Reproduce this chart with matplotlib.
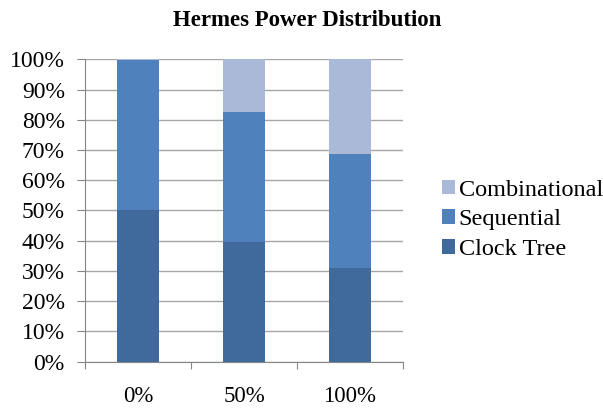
import matplotlib
matplotlib.use('Agg')
import matplotlib.pyplot as plt
import numpy as np

categories = ['0%', '50%', '100%']
clock_tree = [50.0, 39.7, 30.9]
sequential = [49.8, 43.0, 37.8]
combinational = [0.2, 17.3, 31.3]

colors = {'Clock Tree': '#3F6A9B', 'Sequential': '#4F81BD', 'Combinational': '#AAB9D7'}

plt.rcParams['font.family'] = ['Liberation Serif', 'DejaVu Serif']

fig = plt.figure(figsize=(6.03, 4.08), dpi=100)
ax = fig.add_axes([0.1415, 0.1135, 0.5265, 0.7412])

x = np.arange(len(categories))
width = 0.4
b1 = ax.bar(x, clock_tree, width, color=colors['Clock Tree'], label='Clock Tree', zorder=3)
b2 = ax.bar(x, sequential, width, bottom=clock_tree, color=colors['Sequential'], label='Sequential', zorder=3)
bottom2 = np.array(clock_tree) + np.array(sequential)
b3 = ax.bar(x, combinational, width, bottom=bottom2, color=colors['Combinational'], label='Combinational', zorder=3)

ax.set_xlim(-0.5, 2.5)
ax.set_ylim(0, 100)
ax.set_yticks(range(0, 101, 10))
ax.set_yticklabels([f'{v}%' for v in range(0, 101, 10)], fontsize=17)
ax.yaxis.grid(True, color='#A6A6A6', linewidth=1, zorder=0)

ax.set_xticks([-0.5, 0.5, 1.5, 2.5])
ax.set_xticklabels([])
ax.set_xticks(x, minor=True)
ax.set_xticklabels(categories, minor=True, fontsize=16.5)
ax.tick_params(axis='x', which='minor', length=0, pad=17.5)
ax.tick_params(axis='x', which='major', length=5, color='#868686')
ax.tick_params(axis='y', length=5.8, color='#868686', pad=9)

for s in ['top', 'right']:
    ax.spines[s].set_visible(False)
for s in ['left', 'bottom']:
    ax.spines[s].set_color('#868686')

fig.text(0.51, 1 - 26 / 408, 'Hermes Power Distribution', fontsize=16.5,
         fontweight='bold', ha='center', va='baseline')

handles = [b3, b2, b1]
fig.legend(handles, ['Combinational', 'Sequential', 'Clock Tree'], loc='center left',
           bbox_to_anchor=(0.7325, 0.461), frameon=False, fontsize=17.5,
           borderpad=0, borderaxespad=0,
           handlelength=0.55, handleheight=0.55, handletextpad=0.15, labelspacing=0.36)

fig.savefig('out.png', dpi=100)
